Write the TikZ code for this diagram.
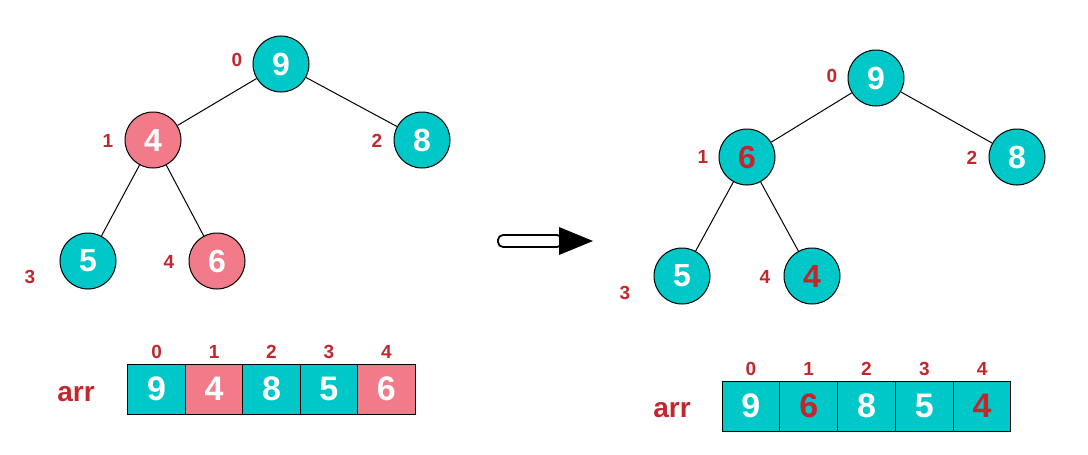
\documentclass[tikz,border=0pt]{standalone}
\usepackage{fontspec}
\setmainfont{Liberation Sans}
\usetikzlibrary{arrows.meta,positioning,calc}
\definecolor{heapcyan}{HTML}{00C8C8}
\definecolor{heappink}{HTML}{F27B8A}
\definecolor{heapred}{HTML}{C1272D}
\tikzset{
  knot/.style={circle,draw,line width=1pt,minimum size=56pt,inner sep=0pt,
    font=\fontsize{32}{32}\selectfont\bfseries,text=white},
  cell/.style={draw,line width=1pt,minimum width=57.6pt,minimum height=50pt,
    inner sep=0pt,font=\fontsize{34}{34}\selectfont\bfseries,text=white},
  idx/.style={inner sep=0pt,font=\fontsize{19}{19}\selectfont\bfseries,text=heapred},
  arrname/.style={inner sep=0pt,font=\fontsize{28}{28}\selectfont\bfseries,text=heapred}
}

\begin{document}
\begin{tikzpicture}[x=1pt,y=-1pt]
  \useasboundingbox (0,0) rectangle (1088,455);

  % heap before the swap
  \node[knot,fill=heapcyan] (a0) at (281,64) {9};
  \node[knot,fill=heappink] (a1) at (153,140) {4};
  \node[knot,fill=heapcyan] (a2) at (422,140) {8};
  \node[knot,fill=heapcyan] (a3) at (88,261) {5};
  \node[knot,fill=heappink] (a4) at (217,261) {6};
  \draw[line width=1pt] (a0) -- (a1) (a0) -- (a2) (a1) -- (a3) (a1) -- (a4);
  \foreach \x/\y[count=\i from 0] in {237/60,108/141,377/141,30/277,169/262}
    \node[idx] (la\i) at (\x,\y) {\i};

  % heap after the swap
  \node[knot,fill=heapcyan] (b0) at (876,78) {9};
  \node[knot,fill=heapcyan,text=heapred] (b1) at (747,157) {6};
  \node[knot,fill=heapcyan] (b2) at (1017,157) {8};
  \node[knot,fill=heapcyan] (b3) at (682,276) {5};
  \node[knot,fill=heapcyan,text=heapred] (b4) at (812,276) {4};
  \draw[line width=1pt] (b0) -- (b1) (b0) -- (b2) (b1) -- (b3) (b1) -- (b4);
  \foreach \x/\y[count=\i from 0] in {832/76,703/157,972/158,625/293,765/277}
    \node[idx] (lb\i) at (\x,\y) {\i};

  % arrow
  \draw[line width=1.8pt,rounded corners=5pt] (498,235) rectangle (562,247);
  \fill (559,227) -- (593,241) -- (559,255) -- cycle;

  % arrays
  \node[arrname] (arra) at (76,394) {arr};
  \foreach \v/\c[count=\i from 0] in {9/heapcyan,4/heappink,8/heapcyan,5/heapcyan,6/heappink} {
    \node[cell,fill=\c] (ca\i) at ({156.7+57.4*\i},389) {\v};
    \node[idx] at ($(ca\i.north)+(0,-12)$) {\i};
  }
  \node[arrname] (arrb) at (672,410) {arr};
  \foreach \v/\t[count=\i from 0] in {9/white,6/heapred,8/white,5/white,4/heapred} {
    \node[cell,fill=heapcyan,text=\t] (cb\i) at ({750.9+57.8*\i},406) {\v};
    \node[idx] at ($(cb\i.north)+(0,-12)$) {\i};
  }
\end{tikzpicture}
\end{document}
